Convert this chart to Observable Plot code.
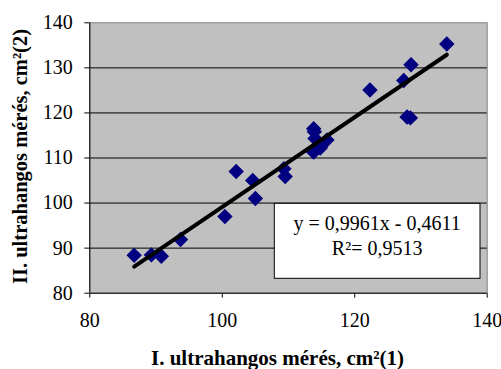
<!DOCTYPE html>
<html><head><meta charset="utf-8">
<script src="https://cdn.jsdelivr.net/npm/d3@7"></script>
<script src="https://cdn.jsdelivr.net/npm/@observablehq/plot@0.6"></script>
<style>body{margin:0;background:#fff}</style>
</head><body><div id="chart"></div>
<script>
const xValues = [86.7, 89.3, 90.8, 93.7, 100.4, 102.1, 104.6, 105.0, 109.3, 109.5, 113.8, 113.9, 114.0, 115.8, 114.5, 113.8, 114.8, 122.3, 127.4, 127.9, 128.4, 128.5, 133.9];
const yValues = [88.4, 88.5, 88.2, 91.9, 97.0, 107.0, 105.0, 101.0, 107.6, 105.9, 116.5, 115.8, 114.3, 114.0, 112.8, 111.3, 112.2, 125.1, 127.2, 119.1, 118.9, 130.7, 135.3];
const slope = 0.9961, intercept = -0.4611;
const xTicks = [80, 100, 120, 140];
const yTicks = [80, 90, 100, 110, 120, 130, 140];
const gridY = [90, 100, 110, 120, 130];
const xLabel = "I. ultrahangos mérés, cm²(1)";
const yLabel = "II. ultrahangos mérés, cm²(2)";
const eqLines = ["y = 0,9961x - 0,4611", "R²= 0,9513"];

const points = xValues.map((x, i) => ({x, y: yValues[i]}));
const [x0, x1] = d3.extent(xValues);
const trend = [x0, x1].map(x => ({x, y: slope * x + intercept}));

const W = 501, H = 369;
const mL = 89.3, mR = 14.3, mT = 22.3, mB = 76.3;
const serif = "'Liberation Serif', 'Times New Roman', serif";

const chart = Plot.plot({
  width: W, height: H,
  marginLeft: mL, marginRight: mR, marginTop: mT, marginBottom: mB,
  style: {fontFamily: serif, fontSize: "20px", color: "#000", background: "#fff", overflow: "visible"},
  x: {domain: [80, 140], ticks: xTicks, tickSize: 5, tickPadding: 15, label: null},
  y: {domain: [80, 140], ticks: yTicks, tickSize: 5, tickPadding: 12, label: null},
  marks: [
    Plot.frame({fill: "#c0c0c0", stroke: "#808080"}),
    Plot.ruleY(gridY, {stroke: "#000", strokeWidth: 1}),
    Plot.ruleX([80], {stroke: "#000"}),
    Plot.ruleY([80], {stroke: "#000"}),
    Plot.dot(points, {x: "x", y: "y", symbol: "diamond2", r: 6, fill: "#000080", stroke: "#000080"}),
    Plot.line(trend, {x: "x", y: "y", stroke: "#000", strokeWidth: 4, strokeLinecap: "round"}),
    Plot.text([xLabel], {frameAnchor: "bottom", dx: -11, dy: 65, fontWeight: "bold", fontSize: 21, lineAnchor: "middle", fill: "#000"})
  ]
});
document.getElementById("chart").appendChild(chart);

const svg = d3.select(chart);
// y axis title
svg.append("text")
  .attr("transform", "translate(20,156.5) rotate(-90)")
  .attr("dy", "0.35em").attr("text-anchor", "middle")
  .attr("font-family", serif).attr("font-size", 20.5).attr("font-weight", "bold")
  .attr("fill", "#000").text(yLabel);

// equation box annotation
const bx = 274.3, by = 203.3, bw = 205.7, bh = 75;
const g = svg.append("g");
g.append("rect").attr("x", bx).attr("y", by).attr("width", bw).attr("height", bh)
  .attr("fill", "#fff").attr("stroke", "#000").attr("stroke-width", 1);
eqLines.forEach((t, i) => {
  g.append("text").attr("x", bx + bw / 2).attr("y", 223.5 + i * 25).attr("dy", "0.32em")
    .attr("text-anchor", "middle").attr("font-size", 20)
    .attr("font-family", serif).attr("fill", "#000").text(t);
});
</script>
</body></html>
